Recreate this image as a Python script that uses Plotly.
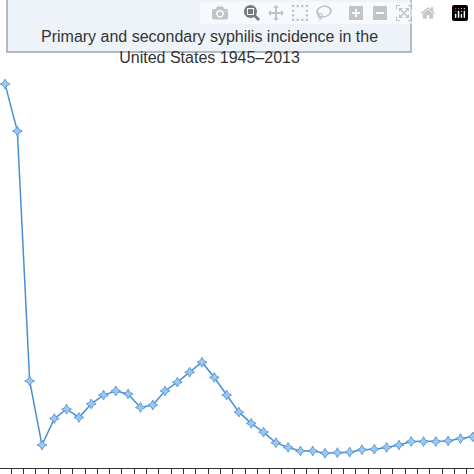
import plotly.graph_objects as go

# one point per period, 1945-2013 (rate per 100,000)
period = list(range(39))
rate = [65.3, 57.3, 14.8, 3.9, 8.4, 10.0, 8.6, 10.9, 12.4, 13.1, 12.6, 10.3, 10.7,
        13.1, 14.6, 16.3, 18.0, 15.4, 12.4, 9.5, 7.6, 6.1, 4.3, 3.5, 2.9, 2.9,
        2.5, 2.6, 2.7, 3.1, 3.2, 3.5, 3.9, 4.5, 4.5, 4.5, 4.6, 5.0, 5.3]
title_text = "Primary and secondary syphilis incidence in the<br>United States 1945\u20132013"

fig = go.Figure()
fig.add_trace(go.Scatter(
    x=period, y=rate, mode="lines+markers",
    line=dict(color="#4a8fd6", width=1.5),
    marker=dict(symbol="star-diamond", size=7, color="#9cc8ef",
                line=dict(color="#5a9ad8", width=1)),
))

# title box
fig.add_shape(type="rect", xref="paper", yref="paper",
              x0=7 / 474, x1=411 / 474, y0=1 - 52 / 468, y1=1.02,
              fillcolor="#eef3fa", line=dict(color="#9aa5b5", width=1.5))
fig.add_annotation(xref="paper", yref="paper", x=209 / 474, y=1 - 26 / 468,
                   text=title_text, showarrow=False,
                   font=dict(family="Liberation Sans, Arial", size=16, color="#333333"))

fig.update_xaxes(range=[-0.41, 38.1], showgrid=False, zeroline=False,
                 showline=True, linecolor="#333333", linewidth=1,
                 ticks="outside", ticklen=6, tickcolor="#333333",
                 tick0=-0.5, dtick=1, showticklabels=False)
fig.update_yaxes(range=[0, 79.6], showgrid=False, zeroline=False,
                 showline=False, showticklabels=False)
fig.update_layout(
    width=474, height=474, showlegend=False,
    margin=dict(l=0, r=0, t=0, b=6),
    plot_bgcolor="white", paper_bgcolor="white",
)

fig.write_html("out.html", post_script="document.body.style.margin='0';")
